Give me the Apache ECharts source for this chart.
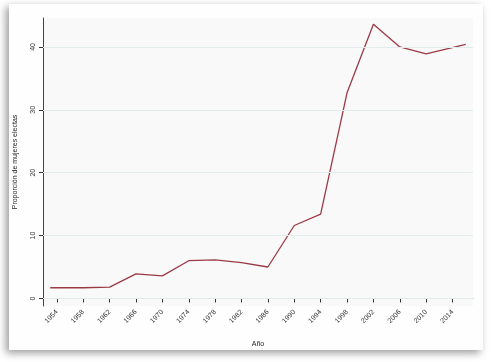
<!DOCTYPE html>
<html><head><meta charset="utf-8">
<script src="https://cdn.jsdelivr.net/npm/echarts@6/dist/echarts.min.js"></script>
<style>html,body{margin:0;padding:0;background:#fff}#c{width:493px;height:362px}</style>
</head><body><div id="c"></div>
<script>
var years = [1953,1958,1962,1966,1970,1974,1978,1982,1986,1990,1994,1998,2002,2006,2010,2016];
var values = [1.7,1.7,1.8,3.9,3.6,6.0,6.15,5.7,5.0,11.6,13.4,32.7,43.6,40.0,38.9,40.4];
var xTicks = [1954,1958,1962,1966,1970,1974,1978,1982,1986,1990,1994,1998,2002,2006,2010,2014];
var yTicks = [0,10,20,30,40];

var chart = echarts.init(document.getElementById('c'));
var font = "'Liberation Sans Narrow','Liberation Sans',sans-serif";
chart.setOption({
  animation:false,
  graphic:[{type:'rect',z:-10,shape:{x:9,y:4,width:474,height:346},
    style:{fill:'#fefefe',shadowBlur:8,shadowColor:'rgba(0,0,0,0.4)',shadowOffsetX:-3,shadowOffsetY:3}}],
  grid:{left:43,top:18,right:20,bottom:56,show:true,backgroundColor:'#f9f9f9',borderWidth:0},
  xAxis:{type:'value',min:1951.9,max:2017.1,name:'Año',nameLocation:'middle',nameGap:35,
    nameTextStyle:{fontFamily:font,fontSize:7,color:'#222'},
    axisLine:{show:true,lineStyle:{color:'#aaa',width:1}},
    axisTick:{show:true,customValues:xTicks,length:4,lineStyle:{color:'#333'}},
    axisLabel:{customValues:xTicks,rotate:45,fontFamily:font,fontSize:7,color:'#333',margin:5,
      formatter:function(v){return String(Math.round(v));}},
    splitLine:{show:false}},
  yAxis:{type:'value',min:-1.2,max:44.6,name:'Proporción de mujeres electas',nameLocation:'middle',nameGap:24,
    nameTextStyle:{fontFamily:font,fontSize:7,color:'#222'},
    axisLine:{show:true,lineStyle:{color:'#444',width:1}},
    axisTick:{show:true,customValues:yTicks,length:4,lineStyle:{color:'#333'}},
    axisLabel:{customValues:yTicks,rotate:90,fontFamily:font,fontSize:7,color:'#333',margin:6,
      formatter:function(v){return String(Math.round(v));}},
    splitLine:{show:false}},
  series:[
    {type:'line',z:1,data:[],silent:true,
     markLine:{silent:true,symbol:'none',label:{show:false},
       lineStyle:{color:'#e2ebeb',width:1,type:'solid'},
       data:yTicks.map(function(v){return {yAxis:v};})}},
    {type:'line',z:3,showSymbol:false,
     data:years.map(function(y,i){return [y,values[i]];}),
     lineStyle:{color:'#9b3a45',width:1.3}}
  ]
});
</script></body></html>
